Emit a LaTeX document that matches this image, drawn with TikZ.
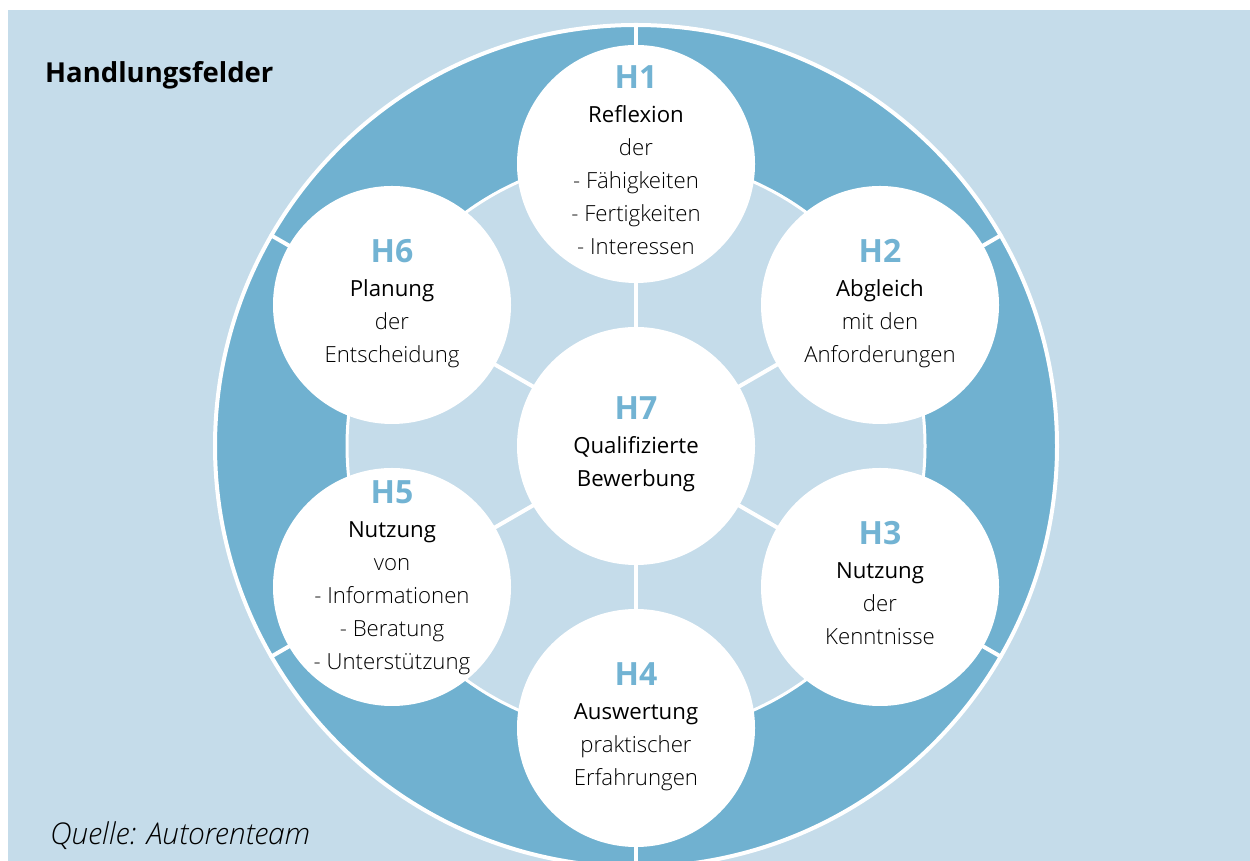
\documentclass[tikz,border=0pt]{standalone}
\usepackage{fontspec}
\setmainfont{Open Sans}
\newfontfamily\lightfont{Open Sans Light}
\definecolor{ringblue}{HTML}{70B1D0}
\definecolor{paleblue}{HTML}{C5DCEA}
\definecolor{hblue}{HTML}{72B3D3}

\tikzset{
  field/.style={circle, fill=white, minimum size=238pt, inner sep=0pt},
  fieldtext/.style={inner sep=0pt, align=center, font=\fontsize{22.2}{33}\selectfont\lightfont},
  divider/.style={white, line width=4pt},
}
\newcommand{\hnum}[1]{{\fontsize{32}{32}\selectfont\normalfont\bfseries\color{hblue}#1}\\[1pt]}
\newcommand{\hhead}[1]{{\normalfont #1}}

\begin{document}
\begin{tikzpicture}[x=1pt,y=1pt]
  \useasboundingbox (0,0) rectangle (1250,861);
  \fill[paleblue] (8,0) rectangle (1250,851);
  \clip (8,0) rectangle (1250,851);
  \coordinate (c) at (636,415);
  % outer ring and inner disc
  \fill[ringblue] (c) circle (421);
  \draw[white, line width=4pt] (c) circle (421);
  \fill[paleblue] (c) circle (289);
  \draw[white, line width=3pt] (c) circle (289);
  % spokes
  \draw[divider] (c) -- ++(90:423);
  \draw[divider] (c) -- ++(30:423);
  \draw[divider] (c) -- ++(-30:423);
  \draw[divider] (c) -- ++(-90:423);
  \draw[divider] (c) -- ++(-150:423);
  \draw[divider] (c) -- ++(150:423);
  % fields
  \node[field] (h1) at (636,697) {};
  \node[field] (h2) at (880,556) {};
  \node[field] (h3) at (880,274) {};
  \node[field] (h4) at (636,133) {};
  \node[field] (h5) at (392,274) {};
  \node[field] (h6) at (392,556) {};
  \node[field] (h7) at (c) {};
  \node[fieldtext] (t1) at ([yshift=4]h1) {\hnum{H1}\hhead{Reflexion}\\der\\- Fähigkeiten\\- Fertigkeiten\\- Interessen};
  \node[fieldtext] (t2) at ([yshift=1]h2) {\hnum{H2}\hhead{Abgleich}\\mit den\\Anforderungen};
  \node[fieldtext] (t3) at ([yshift=4]h3) {\hnum{H3}\hhead{Nutzung}\\der\\Kenntnisse};
  \node[fieldtext] (t4) at ([yshift=1]h4) {\hnum{H4}\hhead{Auswertung}\\praktischer\\Erfahrungen};
  \node[fieldtext] (t5) at ([yshift=9]h5) {\hnum{H5}\hhead{Nutzung}\\von\\- Informationen\\- Beratung\\- Unterstützung};
  \node[fieldtext] (t6) at ([yshift=1]h6) {\hnum{H6}\hhead{Planung}\\der\\Entscheidung};
  \node[fieldtext] (t7) at ([yshift=2]h7) {\hnum{H7}\hhead{Qualifizierte}\\\hhead{Bewerbung}};
  % captions
  \node[anchor=west, inner sep=0pt, font=\fontsize{27.5}{30}\selectfont\bfseries] (title) at (45,786) {Handlungsfelder};
  \node[anchor=west, inner sep=0pt, font=\fontsize{30}{32}\selectfont\lightfont\itshape] (source) at (50,25) {Quelle: Autorenteam};
\end{tikzpicture}
\end{document}
